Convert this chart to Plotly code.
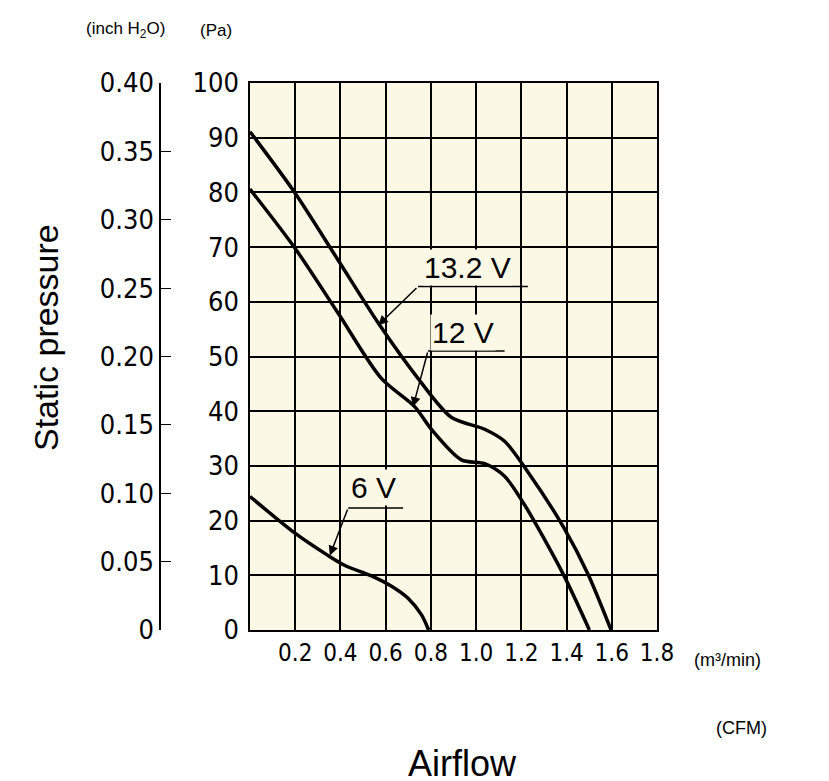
import plotly.graph_objects as go

x132 = [0, 0.199, 0.39, 0.574, 0.743, 0.89, 1.038, 1.126, 1.229, 1.391, 1.494, 1.597]
p132 = [91.1, 79.9, 67.6, 55.7, 46.0, 38.9, 36.7, 34.5, 28.9, 18.5, 10.3, 0]
x12 = [0, 0.199, 0.39, 0.581, 0.729, 0.802, 0.935, 1.038, 1.126, 1.214, 1.384, 1.501]
p12 = [80.6, 69.8, 57.9, 46.0, 40.8, 36.7, 31.1, 30.4, 28.1, 22.9, 10.3, 0]
x6 = [0, 0.199, 0.346, 0.42, 0.537, 0.626, 0.699, 0.758, 0.79]
p6 = [24.4, 17.7, 13.6, 11.8, 9.9, 8.0, 5.8, 2.8, 0]

m3_ticks = [0.2, 0.4, 0.6, 0.8, 1.0, 1.2, 1.4, 1.6, 1.8]
cfm_ticks = [0, 10, 20, 30, 40, 50, 60, 70]
pa_ticks = [0, 10, 20, 30, 40, 50, 60, 70, 80, 90, 100]
inch_ticks = [0, 0.05, 0.10, 0.15, 0.20, 0.25, 0.30, 0.35, 0.40]
inch_labels = ["0", "0.05", "0.10", "0.15", "0.20", "0.25", "0.30", "0.35", "0.40"]

NARROW = "Liberation Sans Narrow, DejaVu Sans Condensed, Arial Narrow, sans-serif"
W, H = 829, 781
L, R, T, B = 20, 129, 75, 40
PW = W - L - R
PH = H - T - B
x0 = (242 - L) / PW
x1 = (649 - L) / PW
ybot = (H - B - 622) / PH

fig = go.Figure()
for xs, ys in [(x132, p132), (x12, p12), (x6, p6)]:
    fig.add_trace(go.Scatter(x=xs, y=ys, mode="lines", line=dict(color="black", width=3.5, shape="spline", smoothing=0.8),
                             showlegend=False, hoverinfo="skip"))
fig.add_trace(go.Scatter(x=[0], y=[0], xaxis="x", yaxis="y2", mode="markers", marker=dict(opacity=0),
                         showlegend=False, hoverinfo="skip"))

fig.update_layout(
    width=W, height=H, margin=dict(l=L, r=R, t=T, b=B, autoexpand=False),
    paper_bgcolor="white", plot_bgcolor="#fcf8e6", showlegend=False,
    xaxis=dict(domain=[x0, x1], range=[0, 1.8], tickvals=m3_ticks, ticktext=[f"{v:.1f}" for v in m3_ticks],
               showgrid=True, gridcolor="black", gridwidth=1.5, ticks="", showline=True, linecolor="black",
               linewidth=1.5, mirror=True, zeroline=False, tickfont=dict(family=NARROW, size=24, color="black"),
               anchor="y", automargin=False),
    yaxis=dict(domain=[ybot, 1], range=[0, 100], tickvals=pa_ticks, showgrid=True, gridcolor="black", gridwidth=1.5,
               ticks="", showline=True, linecolor="black", linewidth=1.5, mirror=True, zeroline=False,
               tickfont=dict(family=NARROW, size=27, color="black"), ticklabelstandoff=4, automargin=False),
    xaxis2=dict(domain=[x0, (690 - L) / PW], range=[0, 70], tickvals=cfm_ticks, anchor="free",
                position=(H - B - 689) / PH, side="bottom", ticks="inside", ticklen=10, tickcolor="black",
                showline=True, linecolor="black", linewidth=1.5, showgrid=False, zeroline=False,
                tickfont=dict(family=NARROW, size=29, color="black"), automargin=False),
    yaxis2=dict(overlaying="y", range=[0, 0.4], tickvals=inch_ticks, ticktext=inch_labels, anchor="free",
                position=(152 - L) / PW, side="left", ticks="inside", ticklen=10, tickcolor="black",
                showline=True, linecolor="black", linewidth=1.5, showgrid=False, zeroline=False,
                tickfont=dict(family=NARROW, size=27, color="black"), automargin=False),
)

def label(text, tx, ty, ux0, ux1, uy, ax_, ay_):
    fig.add_annotation(x=tx, y=ty, xref="x", yref="y", text=text, showarrow=False,
                       font=dict(family="Liberation Sans, Arial", size=30, color="black"), bgcolor="#fcf8e6")
    fig.add_shape(type="line", x0=ux0, x1=ux1, y0=uy, y1=uy, xref="x", yref="y", line=dict(color="black", width=1.5))
    fig.add_annotation(x=ax_, y=ay_, ax=ux0, ay=uy, xref="x", yref="y", axref="x", ayref="y", text="",
                       showarrow=True, arrowhead=2, arrowsize=1.3, arrowwidth=1.5, arrowcolor="black")

label("13.2 V", 0.964, 66.3, 0.743, 1.229, 62.8, 0.567, 55.7)
label("12 V", 0.942, 54.4, 0.787, 1.126, 51.0, 0.721, 40.8)
label("6 V", 0.545, 26.1, 0.434, 0.677, 22.3, 0.353, 13.6)

def ptxt_px(text, px, py, size, angle=0, xanchor="center", family="Liberation Sans, Arial"):
    fig.add_annotation(x=(px - L) / PW, y=(H - B - py) / PH, xref="paper", yref="paper", text=text,
                       showarrow=False, font=dict(family=family, size=size, color="black"), textangle=angle,
                       xanchor=xanchor, yanchor="middle")

ptxt_px("(inch H<sub>2</sub>O)", 118, 22, 17)
ptxt_px("(Pa)", 208, 22, 17)
ptxt_px("Static pressure", 38, 330, 34, angle=-90)
ptxt_px("(m³/min)", 684, 652, 18, xanchor="left")
ptxt_px("(CFM)", 706, 720, 18, xanchor="left")
ptxt_px("Airflow", 455, 755, 36)

fig.write_html("out.html")
